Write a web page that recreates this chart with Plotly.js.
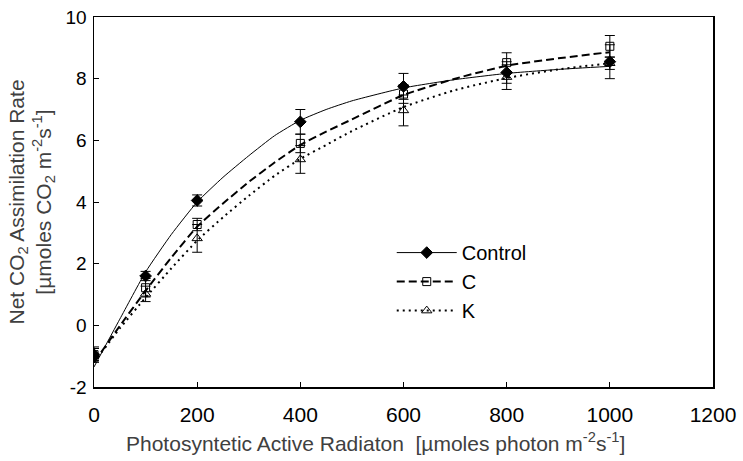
<!DOCTYPE html>
<html>
<head>
<meta charset="utf-8">
<script src="https://cdn.plot.ly/plotly-3.0.1.min.js"></script>
<style>html,body{margin:0;padding:0;background:#fff;}#chart{width:743px;height:461px;}</style>
</head>
<body>
<div id="chart"></div>
<script>
// Measured points
var parX = [0, 100, 200, 400, 600, 800, 1000];
var controlY = [-0.95, 1.6, 4.05, 6.6, 7.75, 8.2, 8.55];
var controlErr = [0.25, 0.15, 0.18, 0.4, 0.42, 0.35, 0.55];
var cY = [-0.95, 1.22, 3.27, 5.9, 7.5, 8.52, 9.05];
var cErr = [0.2, 0.3, 0.2, 0.3, 0.3, 0.32, 0.35];
var kY = [-0.95, 1.02, 2.82, 5.38, 6.97, 8.05, 8.5];
var kErr = [0.2, 0.25, 0.45, 0.45, 0.5, 0.4, 0.2];

// Fitted curves
var fitX = [0, 50, 100, 150, 200, 250, 300, 350, 400, 450, 500, 600, 700, 800, 900, 1000];
var controlFit = [-1.35, 0.2, 1.73, 2.95, 4.0, 4.8, 5.5, 6.15, 6.65, 7.0, 7.28, 7.7, 7.97, 8.17, 8.3, 8.4];
var cFit = [-1.2, -0.02, 1.12, 2.2, 3.2, 3.95, 4.65, 5.28, 5.85, 6.28, 6.68, 7.47, 8.0, 8.42, 8.66, 8.86];
var kFit = [-1.2, -0.1, 0.9, 1.85, 2.75, 3.5, 4.2, 4.85, 5.4, 5.85, 6.3, 7.08, 7.63, 8.02, 8.3, 8.5];

var seriesNames = ['Control', 'C', 'K'];
var xTicks = [0, 200, 400, 600, 800, 1000, 1200];
var yTicks = [-2, 0, 2, 4, 6, 8, 10];
var xTitle = 'Photosyntetic Active Radiaton  [µmoles photon m<sup>-2</sup>s<sup>-1</sup>]';
var yTitle = 'Net CO<sub>2</sub> Assimilation Rate<br>[µmoles CO<sub>2</sub> m<sup>-2</sup>s<sup>-1</sup>]';

var styles = [
  {line: {color: '#000', width: 1, dash: 'solid'}, marker: {symbol: 'diamond', size: 9, color: '#000', line: {color: '#000', width: 1}}},
  {line: {color: '#000', width: 2, dash: '8px,4px'}, marker: {symbol: 'square-open', size: 8, color: '#000', line: {color: '#000', width: 1}}},
  {line: {color: '#000', width: 2, dash: '2px,4px'}, marker: {symbol: 'triangle-up-open', size: 9, color: '#000', line: {color: '#000', width: 1}}}
];
var fits = [controlFit, cFit, kFit];
var pts = [controlY, cY, kY];
var errs = [controlErr, cErr, kErr];

var traces = [];
for (var i = 0; i < 3; i++) {
  traces.push({x: fitX, y: fits[i], mode: 'lines', showlegend: false, hoverinfo: 'skip',
    line: Object.assign({shape: 'spline', smoothing: 0.5}, styles[i].line)});
}
for (var i = 0; i < 3; i++) {
  traces.push({x: parX, y: pts[i], mode: 'markers', marker: styles[i].marker, showlegend: false,
    error_y: {type: 'data', array: errs[i], visible: true, color: '#000', thickness: 1, width: 5}});
}
for (var i = 0; i < 3; i++) {
  traces.push({x: [null], y: [null], mode: 'lines+markers', name: seriesNames[i], line: styles[i].line, marker: styles[i].marker, showlegend: true});
}

var fam = 'Liberation Sans, Arial, sans-serif';
var layout = {
  width: 743, height: 461,
  margin: {l: 94, r: 30, t: 17, b: 74},
  paper_bgcolor: '#fff', plot_bgcolor: '#fff',
  showlegend: true,
  legend: {x: 0.481, y: 0.416, xanchor: 'left', yanchor: 'top', bgcolor: 'rgba(0,0,0,0)',
    font: {family: fam, size: 20, color: '#000'}, itemwidth: 60, tracegroupgap: 0},
  xaxis: {
    range: [0, 1200], tickvals: xTicks, ticktext: xTicks.map(String), ticks: 'inside', ticklen: 5, tickcolor: '#000',
    showline: true, mirror: true, linecolor: '#000', linewidth: 1.5, showgrid: false, zeroline: false,
    ticklabelstandoff: 8,
    tickfont: {family: fam, size: 21, color: '#000'}
  },
  yaxis: {
    range: [-2, 10], tickvals: yTicks, ticktext: yTicks.map(String), ticks: 'inside', ticklen: 5, tickcolor: '#000',
    showline: true, mirror: true, linecolor: '#000', linewidth: 1.5, showgrid: false, zeroline: false,
    ticklabelstandoff: 2,
    tickfont: {family: fam, size: 19, color: '#000'},
    title: {text: yTitle, standoff: 8, font: {family: fam, size: 21, color: '#404040'}}
  },
  annotations: [{
    text: xTitle, xref: 'paper', yref: 'paper', x: 0.455, y: -0.148, xanchor: 'center', yanchor: 'middle',
    showarrow: false, font: {family: fam, size: 21, color: '#404040'}
  }]
};
Plotly.newPlot('chart', traces, layout, {displayModeBar: false, staticPlot: true});
</script>
</body>
</html>
